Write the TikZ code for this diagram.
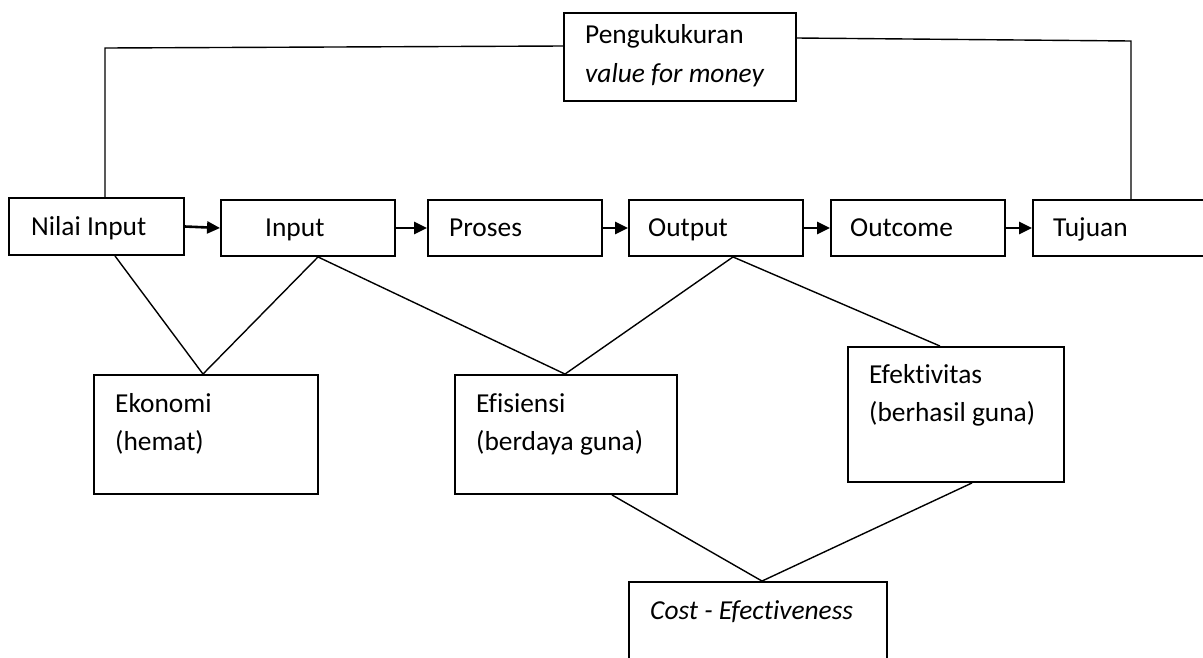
\documentclass[tikz,border=0pt]{standalone}
\usepackage{fontspec}
\setmainfont{Carlito}[Ligatures=NoCommon]
\usetikzlibrary{arrows.meta}
\begin{document}
\begin{tikzpicture}[x=1pt,y=-1pt,
  box/.style={draw,line width=1.9pt,rectangle,inner sep=0pt},
  txt/.style={anchor=base west,inner sep=0pt,font=\fontsize{27.4}{32}\selectfont},
  conn/.style={line width=1.4pt},
  flow/.style={line width=2.6pt,-{Triangle[length=13pt,width=12pt]}}]
\useasboundingbox (0,0) rectangle (1203,657);
% boxes
\node[box,minimum width=232pt,minimum height=88pt] (peng) at (680,57) {};
\node[box,minimum width=175pt,minimum height=57pt] (ni) at (96.5,226.5) {};
\node[box,minimum width=174pt,minimum height=56pt] (inp) at (308,228) {};
\node[box,minimum width=174pt,minimum height=56pt] (pro) at (515,228) {};
\node[box,minimum width=174pt,minimum height=56pt] (out) at (716,228) {};
\node[box,minimum width=174pt,minimum height=56pt] (outc) at (918,228) {};
\node[box,minimum width=177pt,minimum height=56pt] (tuj) at (1121.5,228) {};
\node[box,minimum width=224pt,minimum height=119pt] (eko) at (206,434.5) {};
\node[box,minimum width=222pt,minimum height=119pt] (efi) at (566,434.5) {};
\node[box,minimum width=216pt,minimum height=135pt] (efk) at (956,414.5) {};
\node[box,minimum width=258pt,minimum height=98pt] (cost) at (758,631) {};
% texts
\node[txt] (t1) at (585,43) {Pengukukuran};
\node[txt] (t2) at (585,82) {\itshape value for money};
\node[txt] (t3) at (31,235) {Nilai Input};
\node[txt] (t4) at (265,236) {Input};
\node[txt] (t5) at (449,236) {Proses};
\node[txt] (t6) at (648,236) {Output};
\node[txt] (t7) at (850,236) {Outcome};
\node[txt] (t8) at (1053,236) {Tujuan};
\node[txt] (t9) at (115,412) {Ekonomi};
\node[txt] (t10) at (115,450) {(hemat)};
\node[txt] (t11) at (476,412) {Efisiensi};
\node[txt] (t12) at (476,450) {(berdaya guna)};
\node[txt] (t13) at (869,383) {Efektivitas};
\node[txt] (t14) at (869,421) {(berhasil guna)};
\node[txt] (t15) at (650,619) {\itshape Cost - Efectiveness};
% top connectors
\coordinate (tl) at (105,48);
\coordinate (tr) at (1131,41);
\draw[conn] ([yshift=11pt]peng.west) -- (tl) -- (tl |- ni.north);
\draw[conn] ([yshift=19pt]peng.east) -- (tr) -- (tr |- tuj.north);
% flow arrows
\draw[flow] (ni.east) -- (inp.west);
\draw[flow] (inp.east) -- (pro.west);
\draw[flow] (pro.east) -- (out.west);
\draw[flow] (out.east) -- (outc.west);
\draw[flow] (outc.east) -- (tuj.west);
% lower connectors
\draw[conn] ([xshift=18.5pt]ni.south) -- ([xshift=-3pt]eko.north);
\draw[conn] ([xshift=10pt]inp.south) -- ([xshift=-3pt]eko.north);
\draw[conn] ([xshift=10pt]inp.south) -- ([xshift=-1pt]efi.north);
\draw[conn] ([xshift=17pt]out.south) -- ([xshift=-1pt]efi.north);
\draw[conn] ([xshift=17pt]out.south) -- ([xshift=-16pt]efk.north);
\draw[conn] ([xshift=46pt]efi.south) -- ([xshift=4pt]cost.north);
\draw[conn] ([xshift=16pt]efk.south) -- ([xshift=4pt]cost.north);
\end{tikzpicture}
\end{document}
